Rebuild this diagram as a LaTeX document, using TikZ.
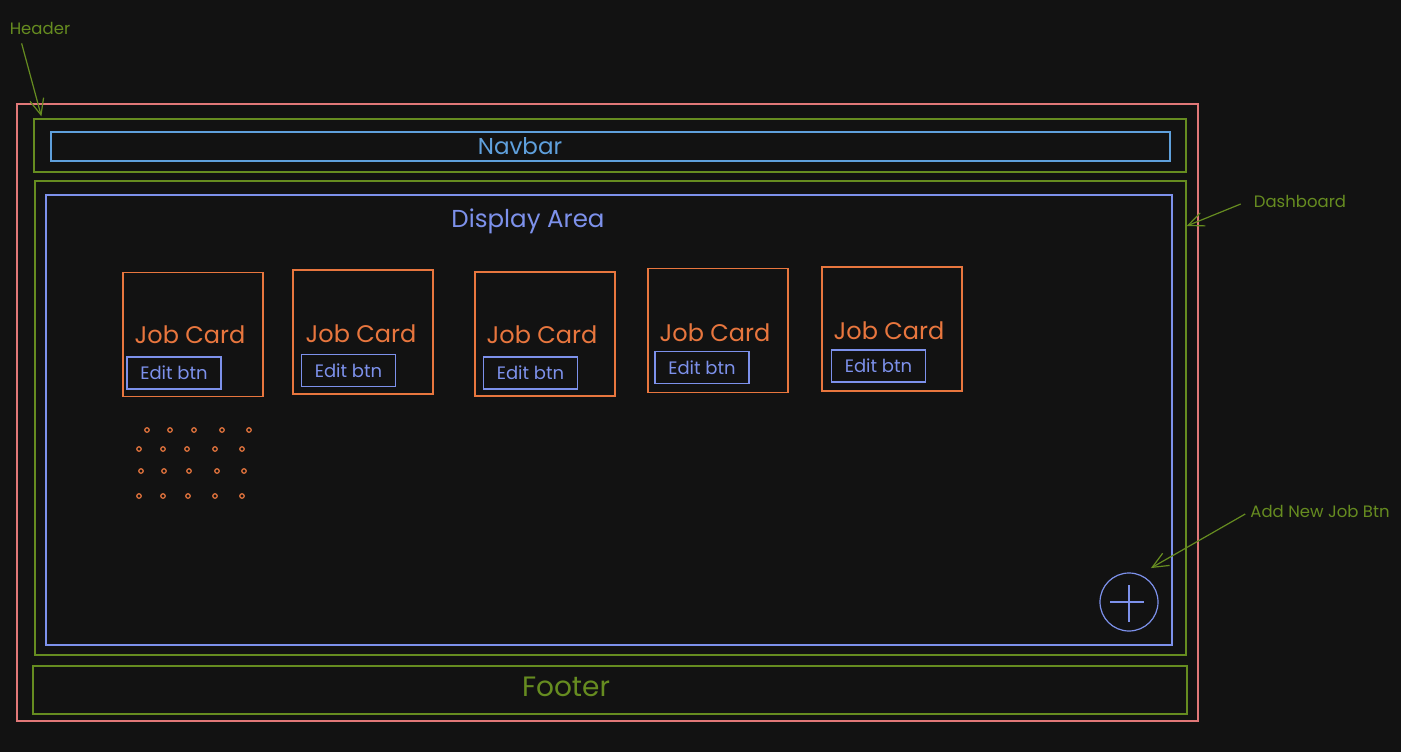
\documentclass[tikz,border=0pt]{standalone}
\usepackage{fontspec}
\setmainfont{Poppins}
\usetikzlibrary{positioning,arrows.meta}
\definecolor{bgdark}{RGB}{18,18,18}
\definecolor{pagered}{RGB}{225,120,120}
\definecolor{frgreen}{RGB}{102,140,32}
\definecolor{navblue}{RGB}{95,160,220}
\definecolor{areablue}{RGB}{125,145,235}
\definecolor{cardorange}{RGB}{232,118,62}

\begin{document}
\begin{tikzpicture}[x=1pt, y=-1pt,
	frame/.style={draw, line width=1.2pt, minimum width=#1, inner sep=0pt},
	card/.style={draw=cardorange, line width=1.2pt, minimum width=140pt, minimum height=124pt, inner sep=0pt},
	editbtn/.style={draw=areablue, line width=1.2pt, minimum width=94pt, minimum height=32pt, inner sep=0pt, text=areablue, font=\fontsize{18}{18}\selectfont},
	cardtxt/.style={text=cardorange, font=\fontsize{24}{24}\selectfont},
	callout/.style={text=frgreen, font=\fontsize{16.5}{16.5}\selectfont, inner sep=1pt},
	pointer/.style={draw=frgreen, line width=1.2pt, -{Straight Barb[length=16pt, width=14pt]}},
	dot/.style={draw=cardorange, line width=1.2pt, circle, inner sep=0pt, minimum size=4.5pt}]
			\fill[bgdark] (0,0) rectangle (1401,752);
			% outer page and layout frames
			\node[frame=1181pt, draw=pagered, minimum height=617pt] (page) at (607.5,412.5) {};
			\node[frame=1152pt, draw=frgreen, minimum height=53pt] (hdr) at (610,145.5) {};
			\node[frame=1119pt, draw=navblue, minimum height=29pt] (navbar) at (610.5,146.5) {};
			\node[text=navblue, font=\fontsize{23}{23}\selectfont] (navtxt) at (520,146) {Navbar};
			\node[frame=1151pt, draw=frgreen, minimum height=474pt] (dash) at (610.5,418) {};
			\node[frame=1126pt, draw=areablue, minimum height=450pt] (area) at (609,420) {};
			\node[text=areablue, font=\fontsize{24.5}{24.5}\selectfont] (areatxt) at (528,221) {Display Area};
			\node[frame=1154pt, draw=frgreen, minimum height=48pt] (footer) at (610,690) {};
			\node[text=frgreen, font=\fontsize{28}{28}\selectfont] (foottxt) at (566,687) {Footer};
			% job cards
			\node[card] (card1) at (193,334.5) {};
			\node[card] (card2) at (363,332) {};
			\node[card] (card3) at (545,334) {};
			\node[card] (card4) at (718,330.5) {};
			\node[card] (card5) at (892,329) {};
			\node[cardtxt] (job1) at (190,335) {Job Card};
			\node[cardtxt] (job2) at (361,334) {Job Card};
			\node[cardtxt] (job3) at (542,335) {Job Card};
			\node[cardtxt] (job4) at (715,333) {Job Card};
			\node[cardtxt] (job5) at (889,331) {Job Card};
			\node[editbtn] (edit1) at (174,373) {Edit btn};
			\node[editbtn] (edit2) at (348.5,370.5) {Edit btn};
			\node[editbtn] (edit3) at (530.5,373) {Edit btn};
			\node[editbtn] (edit4) at (702,367.5) {Edit btn};
			\node[editbtn] (edit5) at (878.5,366) {Edit btn};
			% dotted placeholder
			\foreach \x [count=\i] in {147,170,194,222,249} \node[dot] (dota\i) at (\x,430) {};
			\foreach \x [count=\i] in {139,163,187,215,242} \node[dot] (dotb\i) at (\x,449) {};
			\foreach \x [count=\i] in {141,164,189,217,244} \node[dot] (dotc\i) at (\x,471) {};
			\foreach \x [count=\i] in {139,163,188,215,242} \node[dot] (dotd\i) at (\x,496) {};
			% add button
			\node[draw=areablue, line width=1.2pt, circle, minimum size=58pt, inner sep=0pt] (addbtn) at (1129,602) {};
			\draw[areablue, line width=1.2pt] ([xshift=-19pt]addbtn.center) -- ([xshift=15pt]addbtn.center)
				([shift={(0,-17)}]addbtn.center) -- ([shift={(0,20)}]addbtn.center);
			% callouts
			\node[callout] (hdrlbl) at (40,28) {Header};
			\node[callout] (dashlbl) at (1300,201) {Dashboard};
			\node[callout] (addlbl) at (1320,511) {Add New Job Btn};
			\coordinate (hdrtip) at ([shift={(8,-2)}]hdr.north west);
			\coordinate (dashtip) at (dash.east |- 0,226);
			\coordinate (addtip) at ([shift={(1,-13)}]addbtn.north east);
			\draw[pointer] ([shift={(13,8)}]hdrlbl.south west) -- (hdrtip);
			\draw[pointer] ([shift={(-12,3)}]dashlbl.west) -- (dashtip);
			\draw[pointer] ([shift={(-4,3)}]addlbl.west) -- (addtip);
\end{tikzpicture}
\end{document}
